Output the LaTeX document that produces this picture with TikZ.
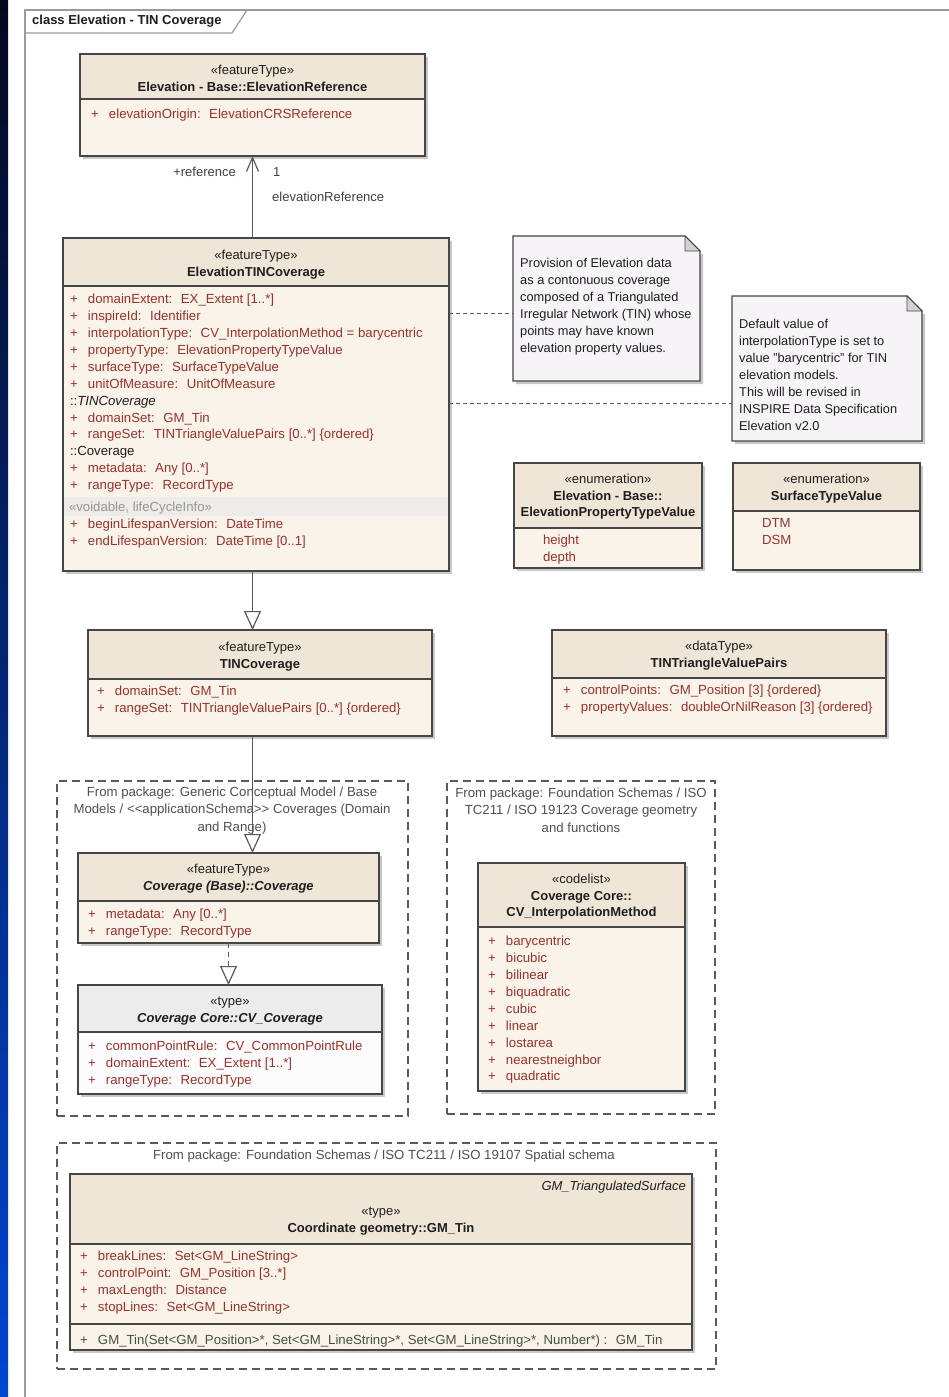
\documentclass[tikz,border=0pt]{standalone}
\usepackage{fontspec}
\setmainfont{Liberation Sans}
\usetikzlibrary{arrows.meta,fit}
\definecolor{attrc}{RGB}{150,50,45}
\definecolor{hdrc}{RGB}{239,230,216}
\definecolor{bodyc}{RGB}{249,243,234}
\definecolor{edgec}{RGB}{70,70,70}
\definecolor{shadc}{RGB}{200,200,200}
\definecolor{connc}{RGB}{90,90,90}
\definecolor{notefill}{RGB}{246,244,247}
\definecolor{pkgtextc}{RGB}{80,80,80}
\definecolor{darktext}{RGB}{30,30,30}
\definecolor{framec}{RGB}{155,155,155}
\definecolor{voidc}{RGB}{150,150,150}
\definecolor{bandc}{RGB}{237,236,234}
\definecolor{cvhdr}{RGB}{236,236,236}
\definecolor{cvbody}{RGB}{252,252,252}
\definecolor{opc}{RGB}{70,80,70}
\newcommand\umlvis{\makebox[18pt][l]{+}}
\newcommand\umlstrut{\rule{0pt}{11pt}}
% name, x1, y1, x2, y2, ydivider, header colour, body colour
\newcommand\UMLbox[8]{%
  \fill[shadc] (#2+3,#3+3) rectangle (#4+3,#5+3);
  \node[fit={(#2,#3) (#4,#5)}, inner sep=0pt, outer sep=0pt, fill=#8] (#1) {};
  \fill[#7] (#2,#3) rectangle (#4,#6);
  \draw[edgec, line width=1.1pt] (#2,#6) -- (#4,#6);
  \draw[edgec, line width=1.1pt] (#1.north west) rectangle (#1.south east);
}
\tikzset{
  hdrtext/.style={anchor=north, inner sep=0pt, outer sep=0pt, align=center, text=darktext, font=\fontsize{13}{16.3}\selectfont},
  attrtext/.style={anchor=north west, inner sep=0pt, outer sep=0pt, align=left, text=attrc, font=\fontsize{13.2}{16.9}\selectfont},
  lbl/.style={inner sep=0pt, text=darktext!85, font=\fontsize{13}{16}\selectfont},
  pkgtext/.style={anchor=north, inner sep=0pt, align=center, text=pkgtextc, font=\fontsize{13.2}{17.5}\selectfont},
  notetext/.style={anchor=north west, inner sep=0pt, align=left, text=darktext, font=\fontsize{12.8}{16.9}\selectfont},
  pkgbox/.style={inner sep=0pt, outer sep=0pt, draw=connc, line width=1.2pt, dash pattern=on 8pt off 5pt},
  notebox/.style={fill=notefill, draw=edgec, line width=1.1pt, line join=miter},
  conn/.style={draw=connc, line width=1.3pt},
  genarrow/.style={conn, -{Triangle[open, length=19pt, width=17pt, fill=white, line width=1.2pt]}},
  navarrow/.style={conn, -{Straight Barb[length=14pt, width=12pt, line width=1.2pt]}},
  notelink/.style={draw=connc, line width=1pt, dash pattern=on 4pt off 3pt},
}
\begin{document}
\begin{tikzpicture}[x=1pt,y=-1pt]
\useasboundingbox (0,0) rectangle (948,1397);
\fill[white] (0,0) rectangle (948,1397);
% left band
\shade[top color={rgb,255:red,4;green,8;blue,30}, bottom color={rgb,255:red,0;green,70;blue,210}] (0,0) rectangle (8,1397);
% diagram frame
\draw[framec, line width=2.5pt] (950,10) -- (25,10) -- (25,1400);
\draw[framec, line width=1.2pt] (25,33) -- (232,33) -- (247,10);
\node[anchor=west, inner sep=0pt, text=darktext, font=\fontsize{13}{16}\selectfont\bfseries] (frametitle) at (32,21.5) {class Elevation - TIN Coverage};

% packages
\node[pkgbox, fit={(57,781) (408,1116)}] (pk1) {};
\node[pkgtext] (pk1t) at (232,786.7) {From package: Generic Conceptual Model / Base\\Models / <{}<applicationSchema>{}> Coverages (Domain\\and Range)};
\node[pkgbox, fit={(447,781) (715,1114)}] (pk2) {};
\node[pkgtext] (pk2t) at (581,787.7) {From package: Foundation Schemas / ISO\\TC211 / ISO 19123 Coverage geometry\\and functions};
\node[pkgbox, fit={(57,1143) (716,1369)}] (pk3) {};
\node[pkgtext] (pk3t) at (384,1149.7) {From package: Foundation Schemas / ISO TC211 / ISO 19107 Spatial schema};

% ElevationReference
\UMLbox{ref}{80}{54}{425}{156}{99}{hdrc}{bodyc}
\node[hdrtext] (refh) at (252.5,63.7) {\umlstrut«featureType»\\\textbf{Elevation - Base::ElevationReference}};
\node[attrtext] (refa) at (91,107.7) {\umlstrut\umlvis elevationOrigin:~ ElevationCRSReference};

% ElevationTINCoverage
\UMLbox{etc}{63}{238}{449}{571}{286}{hdrc}{bodyc}
\node[hdrtext] (etch) at (256,248.7) {\umlstrut«featureType»\\\textbf{ElevationTINCoverage}};
\node[attrtext] (etca) at (70,292.7) {\umlstrut\umlvis domainExtent:~ EX\_Extent [1..*]\\
\umlvis inspireId:~ Identifier\\
\umlvis interpolationType:~ CV\_InterpolationMethod = barycentric\\
\umlvis propertyType:~ ElevationPropertyTypeValue\\
\umlvis surfaceType:~ SurfaceTypeValue\\
\umlvis unitOfMeasure:~ UnitOfMeasure\\
{\color{darktext}::\textit{TINCoverage}}\\
\umlvis domainSet:~ GM\_Tin\\
\umlvis rangeSet:~ TINTriangleValuePairs [0..*] \{ordered\}\\
{\color{darktext}::Coverage}\\
\umlvis metadata:~ Any [0..*]\\
\umlvis rangeType:~ RecordType};
\fill[bandc] (64,497) rectangle (448,516);
\node[attrtext, text=voidc] (etcv) at (69,500.7) {\umlstrut«voidable, lifeCycleInfo»};
\node[attrtext] (etcl) at (70,517.7) {\umlstrut\umlvis beginLifespanVersion:~ DateTime\\
\umlvis endLifespanVersion:~ DateTime [0..1]};

% Notes
\fill[shadc] (516,239) -- (703,254) -- (703,384) -- (516,384) -- cycle;
\node[fit={(513,236) (700,381)}, inner sep=0pt, outer sep=0pt] (note1) {};
\draw[notebox] (note1.north west) -- (685,236) -- (700,251) -- (note1.south east) -- (note1.south west) -- cycle;
\filldraw[fill=gray!35, draw=edgec, line width=0.8pt] (685,236) -- (700,251) -- (685,251) -- cycle;
\node[notetext] (note1t) at (520,256.7) {\umlstrut Provision of Elevation data\\as a contonuous coverage\\composed of a Triangulated\\Irregular Network (TIN) whose\\points may have known\\elevation property values.};

\fill[shadc] (735,299) -- (925,314) -- (925,444) -- (735,444) -- cycle;
\node[fit={(732,296) (922,441)}, inner sep=0pt, outer sep=0pt] (note2) {};
\draw[notebox] (note2.north west) -- (907,296) -- (922,311) -- (note2.south east) -- (note2.south west) -- cycle;
\filldraw[fill=gray!35, draw=edgec, line width=0.8pt] (907,296) -- (922,311) -- (907,311) -- cycle;
\node[notetext] (note2t) at (739,317.7) {\umlstrut Default value of\\interpolationType is set to\\value "barycentric" for TIN\\elevation models.\\This will be revised in\\INSPIRE Data Specification\\Elevation v2.0};

% Enumerations
\UMLbox{epv}{514}{463}{702}{568}{528}{hdrc}{bodyc}
\node[hdrtext] (epvh) at (608,472.7) {\umlstrut«enumeration»\\\textbf{Elevation - Base::}\\\textbf{ElevationPropertyTypeValue}};
\node[attrtext] (epva) at (543,533.7) {\umlstrut height\\depth};
\UMLbox{stv}{733}{463}{920}{570}{511}{hdrc}{bodyc}
\node[hdrtext] (stvh) at (826.5,472.7) {\umlstrut«enumeration»\\\textbf{SurfaceTypeValue}};
\node[attrtext] (stva) at (762,516.7) {\umlstrut DTM\\DSM};

% TINCoverage
\UMLbox{tincov}{88}{630}{432}{736}{679}{hdrc}{bodyc}
\node[hdrtext] (tincovh) at (260,640.7) {\umlstrut«featureType»\\\textbf{TINCoverage}};
\node[attrtext] (tincova) at (97,684.7) {\umlstrut\umlvis domainSet:~ GM\_Tin\\
\umlvis rangeSet:~ TINTriangleValuePairs [0..*] \{ordered\}};

% TINTriangleValuePairs
\UMLbox{tvp}{552}{630}{886}{736}{678}{hdrc}{bodyc}
\node[hdrtext] (tvph) at (719,639.7) {\umlstrut«dataType»\\\textbf{TINTriangleValuePairs}};
\node[attrtext] (tvpa) at (563,683.7) {\umlstrut\umlvis controlPoints:~ GM\_Position [3] \{ordered\}\\
\umlvis propertyValues:~ doubleOrNilReason [3] \{ordered\}};

% Coverage (Base)::Coverage
\UMLbox{covb}{78}{853}{379}{943}{901}{hdrc}{bodyc}
\node[hdrtext] (covbh) at (228.5,862.7) {\umlstrut«featureType»\\\textbf{\textit{Coverage (Base)::Coverage}}};
\node[attrtext] (covba) at (88,907.7) {\umlstrut\umlvis metadata:~ Any [0..*]\\
\umlvis rangeType:~ RecordType};

% CV_Coverage
\UMLbox{cvcov}{78}{985}{382}{1094}{1032}{cvhdr}{cvbody}
\node[hdrtext] (cvcovh) at (230,994.7) {\umlstrut«type»\\\textbf{\textit{Coverage Core::CV\_Coverage}}};
\node[attrtext] (cvcova) at (88,1039.7) {\umlstrut\umlvis commonPointRule:~ CV\_CommonPointRule\\
\umlvis domainExtent:~ EX\_Extent [1..*]\\
\umlvis rangeType:~ RecordType};

% CV_InterpolationMethod
\UMLbox{cvim}{478}{863}{685}{1091}{927}{hdrc}{bodyc}
\node[hdrtext] (cvimh) at (581.5,872.7) {\umlstrut«codelist»\\\textbf{Coverage Core::}\\\textbf{CV\_InterpolationMethod}};
\node[attrtext] (cvima) at (488,934.7) {\umlstrut\umlvis barycentric\\\umlvis bicubic\\\umlvis bilinear\\\umlvis biquadratic\\\umlvis cubic\\\umlvis linear\\\umlvis lostarea\\\umlvis nearestneighbor\\\umlvis quadratic};

% GM_Tin
\UMLbox{gmtin}{70}{1174}{692}{1350}{1244}{hdrc}{bodyc}
\draw[edgec, line width=1.1pt] (gmtin.west |- 0,1324) -- (gmtin.east |- 0,1324);
\node[anchor=north east, inner sep=0pt, text=darktext, font=\fontsize{13}{16}\selectfont\itshape] (gmtinp) at (686,1179.7) {\umlstrut GM\_TriangulatedSurface};
\node[hdrtext] (gmtinh) at (381,1204.7) {\umlstrut«type»\\\textbf{Coordinate geometry::GM\_Tin}};
\node[attrtext] (gmtina) at (80,1249.7) {\umlstrut\umlvis breakLines:~ Set<GM\_LineString>\\
\umlvis controlPoint:~ GM\_Position [3..*]\\
\umlvis maxLength:~ Distance\\
\umlvis stopLines:~ Set<GM\_LineString>};
\node[attrtext, text=opc] (gmtino) at (80,1333.7) {\umlstrut\umlvis GM\_Tin(Set<GM\_Position>*, Set<GM\_LineString>*, Set<GM\_LineString>*, Number*) :~ GM\_Tin};

% connectors
\draw[navarrow] (etc.north -| ref.south) -- (ref.south);
\node[lbl, anchor=east] (rolelbl) at (236,172) {+reference};
\node[lbl, anchor=west] (multlbl) at (273,172) {1};
\node[lbl, anchor=west] (assoclbl) at (272,197) {elevationReference};
\draw[genarrow] (etc.south -| ref.south) -- (tincov.north -| ref.south);
\draw[genarrow] (tincov.south -| ref.south) -- (covb.north -| ref.south);
\draw[genarrow, dash pattern=on 5pt off 4pt] (covb.south) -- (cvcov.north -| covb.south);
\draw[notelink] (etc.east |- 0,313) -- (note1.west |- 0,313);
\draw[notelink] (etc.east |- 0,403) -- (note2.west |- 0,403);
\end{tikzpicture}
\end{document}
